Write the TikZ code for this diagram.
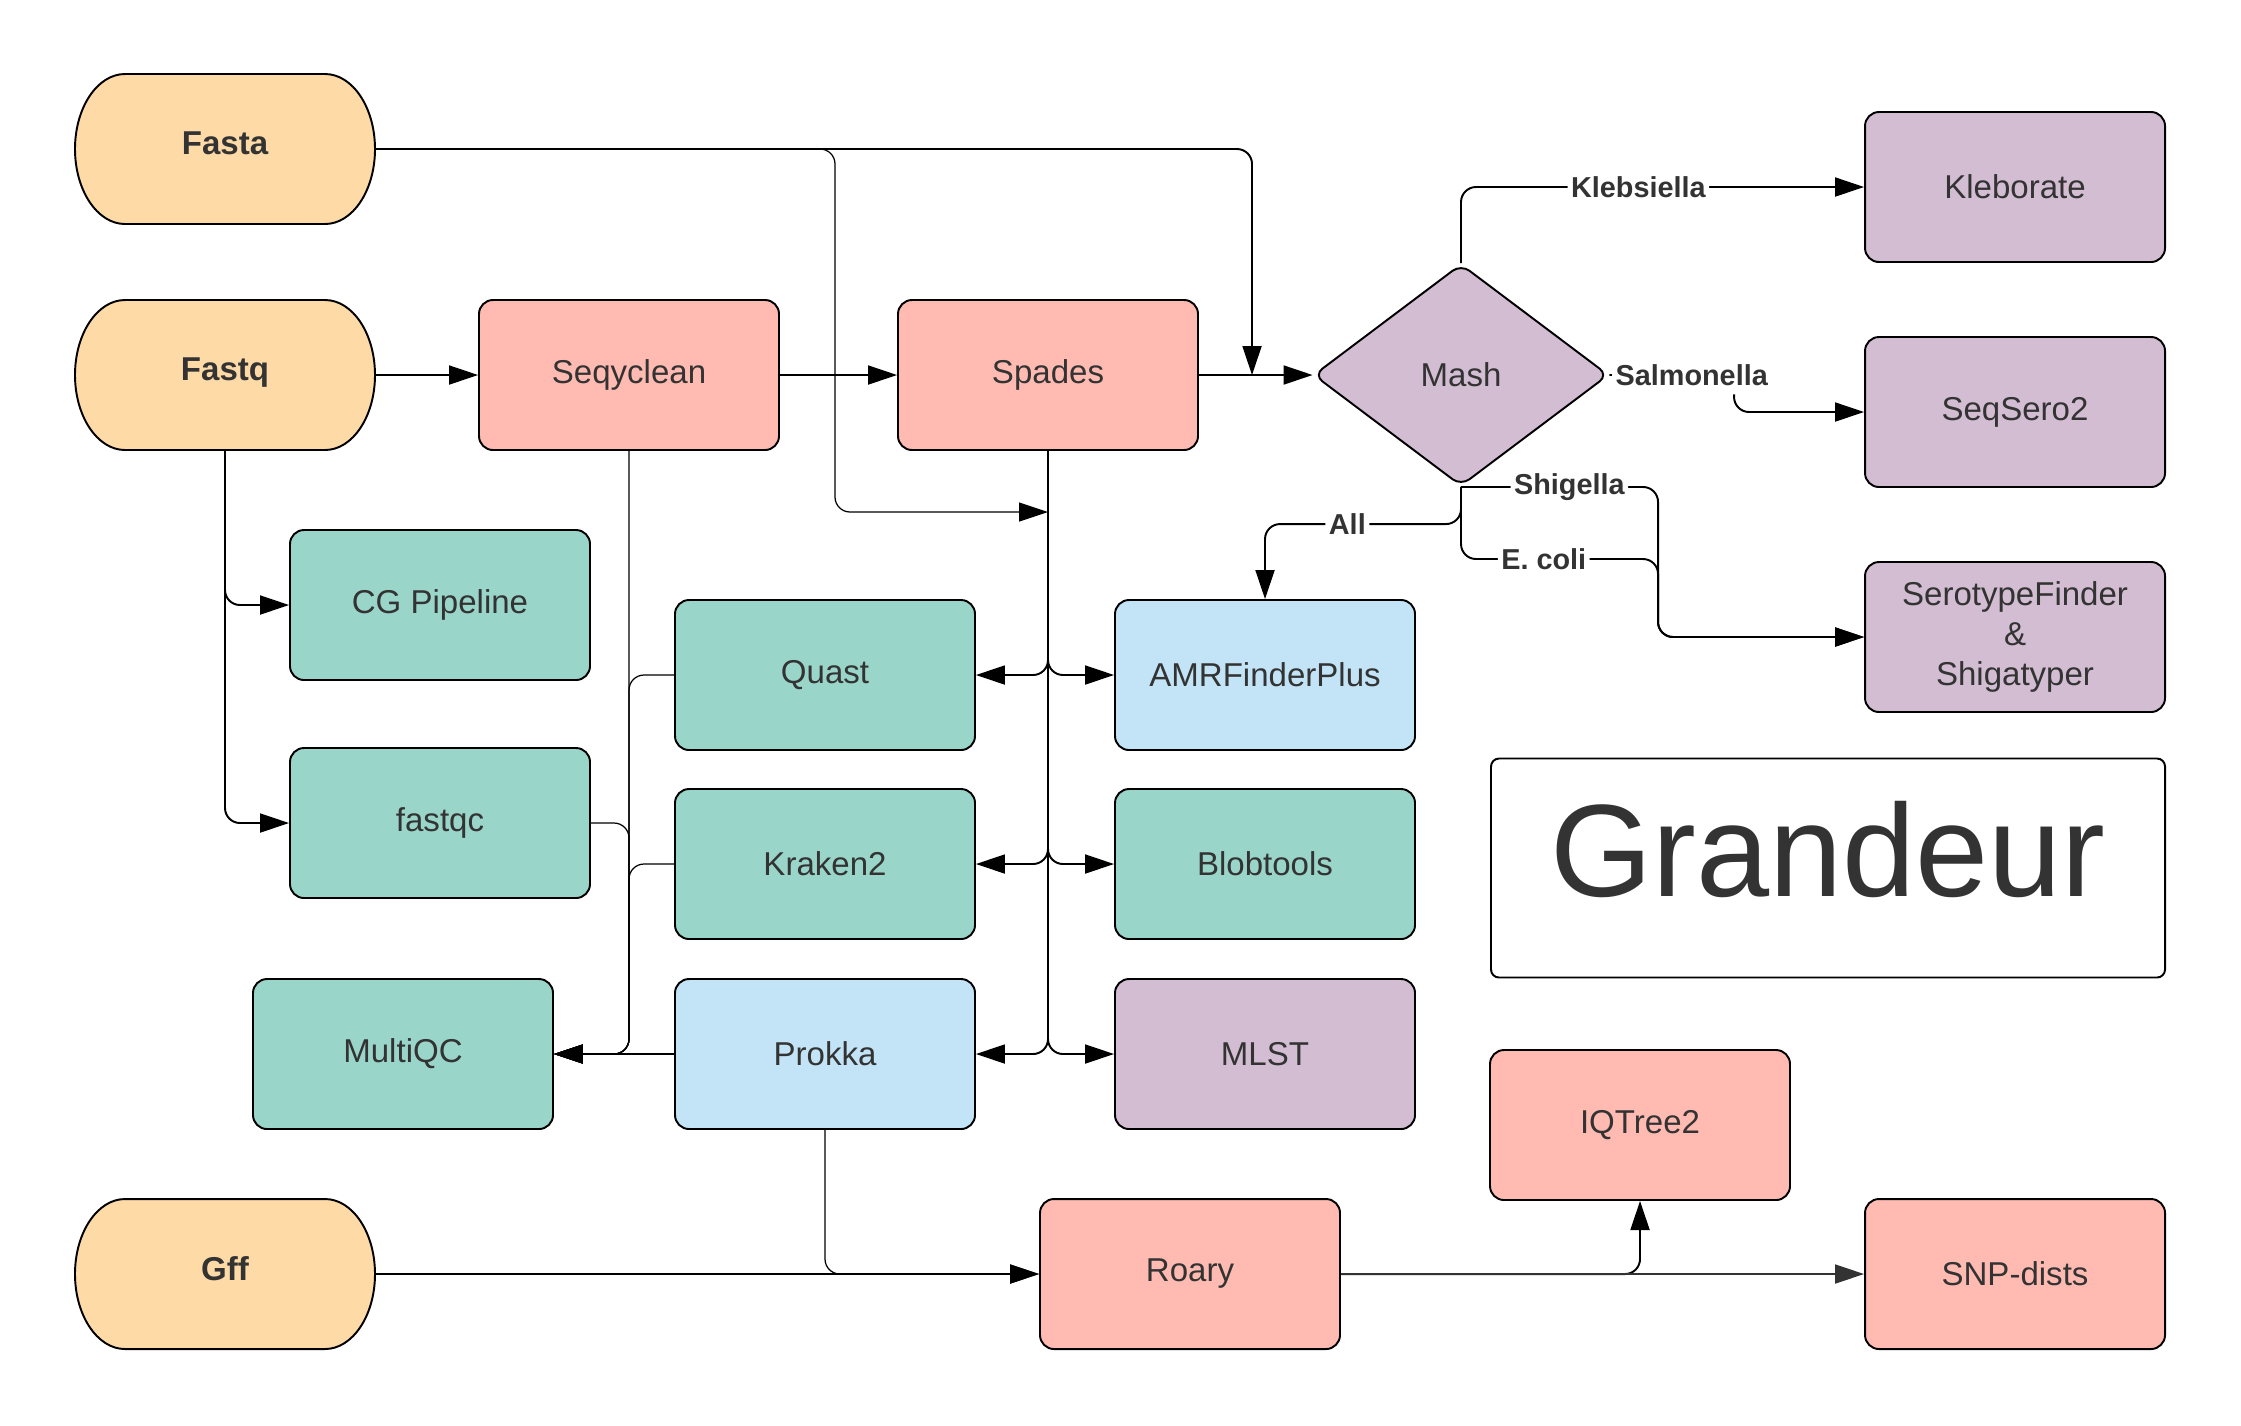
\documentclass[tikz,border=0pt]{standalone}
\usepackage{fontspec}
\setmainfont{Liberation Sans}
\usetikzlibrary{arrows.meta,shapes.geometric}
\definecolor{sand}{RGB}{254,218,167}
\definecolor{salmon}{RGB}{255,187,178}
\definecolor{mint}{RGB}{154,213,202}
\definecolor{sky}{RGB}{194,228,246}
\definecolor{lilac}{RGB}{211,189,210}
\definecolor{ink}{RGB}{51,51,51}
\begin{document}
\begin{tikzpicture}[
  box/.style={draw,line width=.55pt,rounded corners=.14cm,minimum width=3cm,minimum height=1.5cm,text=ink,align=center,font=\fontsize{9.4}{11.4}\selectfont},
  term/.style={minimum width=3cm,minimum height=1.5cm,text depth=.12cm,text=ink,font=\fontsize{9.4}{11.4}\selectfont\bfseries},
  lbl/.style={fill=white,inner xsep=1pt,inner ysep=2.5pt,text=ink,font=\fontsize{8.2}{9}\selectfont\bfseries},
  flow/.style={line width=.55pt,rounded corners=.15cm,-{Triangle[length=2.9mm,width=1.9mm]}},
  thin/.style={line width=.35pt}]
\useasboundingbox (0,0) rectangle (22.41,-14.25);
\foreach \n/\t/\y in {fasta/Fasta/-1.49,fastq/Fastq/-3.75,gff/Gff/-12.74}{
  \draw[fill=sand,line width=.55pt] (1.25,\y+.75) -- (3.25,\y+.75) arc[start angle=90,end angle=-90,x radius=.5,y radius=.75] -- (1.25,\y-.75) arc[start angle=270,end angle=90,x radius=.5,y radius=.75] -- cycle;
  \node[term] (\n) at (2.25,\y) {\t};
}
\node[box,fill=salmon] (seqyclean) at (6.29,-3.75) {Seqyclean};
\node[box,fill=salmon] (spades) at (10.48,-3.75) {Spades};
\node[diamond,draw,line width=.55pt,rounded corners=3pt,fill=lilac,minimum width=2.95cm,minimum height=2.22cm,inner sep=0pt,text=ink,font=\fontsize{9.4}{11.4}\selectfont] (mash) at (14.61,-3.75) {Mash};
\node[box,fill=lilac] (kleborate) at (20.15,-1.87) {Kleborate};
\node[box,fill=lilac] (seqsero) at (20.15,-4.12) {SeqSero2};
\node[box,fill=lilac] (sero) at (20.15,-6.37) {SerotypeFinder\\\&\\Shigatyper};
\node[box,fill=mint] (cg) at (4.40,-6.05) {CG Pipeline};
\node[box,fill=mint] (fastqc) at (4.40,-8.23) {fastqc};
\node[box,fill=mint] (multiqc) at (4.03,-10.54) {MultiQC};
\node[box,fill=mint] (quast) at (8.25,-6.75) {Quast};
\node[box,fill=mint] (kraken) at (8.25,-8.64) {Kraken2};
\node[box,fill=sky] (prokka) at (8.25,-10.54) {Prokka};
\node[box,fill=sky] (amr) at (12.65,-6.75) {AMRFinderPlus};
\node[box,fill=mint] (blob) at (12.65,-8.64) {Blobtools};
\node[box,fill=lilac] (mlst) at (12.65,-10.54) {MLST};
\node[box,fill=salmon] (iqtree) at (16.40,-11.25) {IQTree2};
\node[box,fill=salmon] (roary) at (11.90,-12.74) {Roary};
\node[box,fill=salmon] (snp) at (20.15,-12.74) {SNP-dists};
\node[draw,line width=.55pt,rounded corners=.08cm,minimum width=6.74cm,minimum height=2.19cm,text depth=.38cm,text=ink,font=\fontsize{37.4}{40}\selectfont] (grandeur) at (18.28,-8.68) {Grandeur};
\coordinate (mashin) at (12.52,-3.75);
\coordinate (bus) at (10.48,-5.12);
\coordinate (qcin) at (seqyclean.south |- multiqc.east);
\coordinate (serobend) at ([xshift=-2.06cm]sero.west);
\draw[flow] (fasta.east) -| (mashin);
\draw[flow,thin] (fasta.east) -| ([xshift=-2.13cm]bus) -- (bus);
\draw[flow] (fastq.east) -- (seqyclean.west);
\draw[flow] (seqyclean.east) -- (spades.west);
\draw[flow] (spades.east) -- (mash.west);
\draw[flow] (fastq.south) |- (cg.west);
\draw[flow] (fastq.south) |- (fastqc.west);
\foreach \t in {quast,kraken,prokka} \draw[flow] (spades.south) |- (\t.east);
\foreach \t in {amr,blob,mlst} \draw[flow] (spades.south) |- (\t.west);
\draw[flow,thin] (seqyclean.south) |- (multiqc.east);
\foreach \t/\a in {fastqc/east,quast/west,kraken/west} \draw[flow,thin] (\t.\a) -| (qcin) -- (multiqc.east);
\draw[flow] (prokka.west) -- (multiqc.east);
\draw[flow,thin] (prokka.south) |- (roary.west);
\draw[flow] (gff.east) -- (roary.west);
\draw[flow] (roary.east) -| (iqtree.south);
\draw[flow,draw=ink] (roary.east) -- (snp.west);
\draw[flow] (mash.north) |- node[lbl,pos=.72]{Klebsiella} (kleborate.west);
\draw[flow] (mash.east) -| node[lbl,pos=.33]{Salmonella} ([xshift=-1.3cm]seqsero.west) -- (seqsero.west);
\draw[flow] (mash.south) -| node[lbl,pos=.275]{Shigella} (serobend) -- (sero.west);
\draw[flow] (mash.south) |- node[lbl,pos=.71]{E. coli} ([yshift=.78cm]serobend) -- (serobend) -- (sero.west);
\draw[flow] (mash.south) |- node[lbl,pos=.79]{All} ([yshift=.75cm]amr.north) -- (amr.north);
\end{tikzpicture}
\end{document}
